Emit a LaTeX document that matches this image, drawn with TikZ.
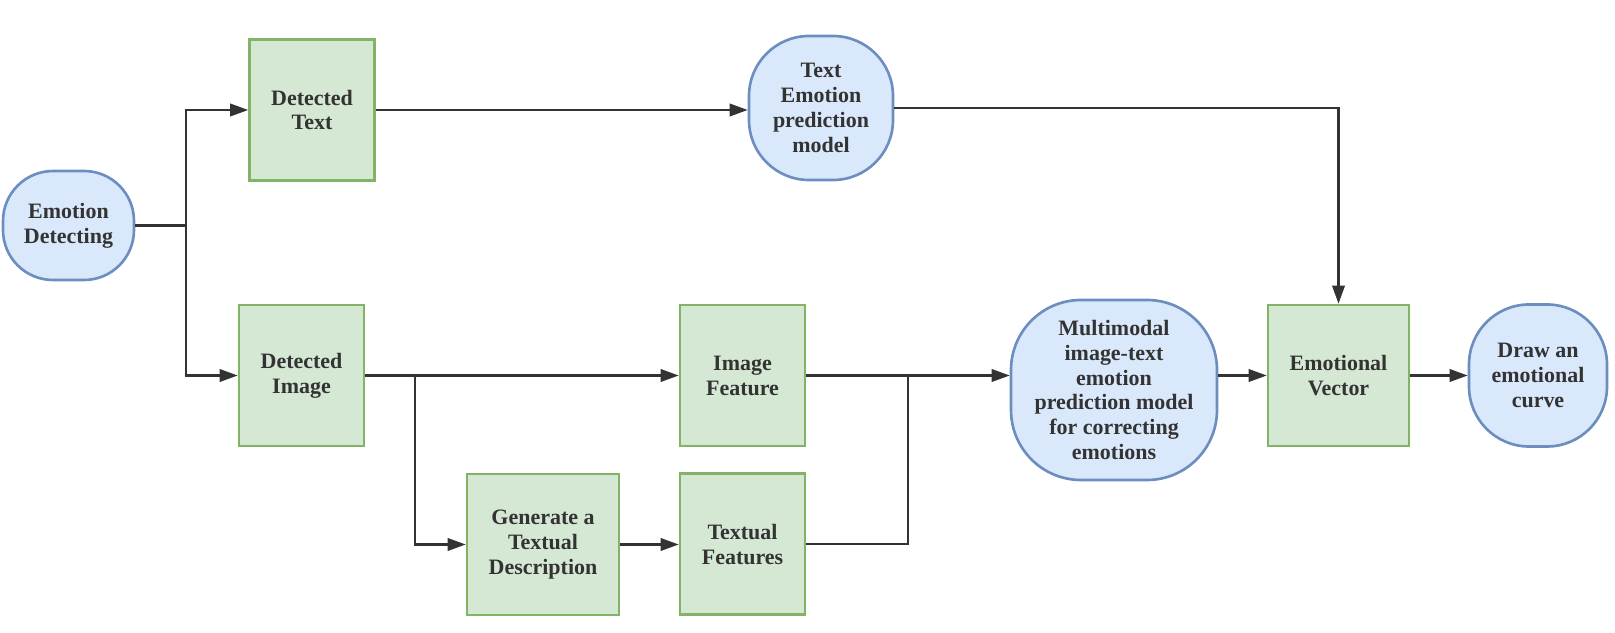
\documentclass[tikz,border=0pt]{standalone}
\usepackage{fontspec}
\setmainfont{Liberation Serif}
\usetikzlibrary{arrows.meta,positioning}
\definecolor{boxgreen}{HTML}{D5E8D4}
\definecolor{edgegreen}{HTML}{82B366}
\definecolor{boxblue}{HTML}{DAE8FC}
\definecolor{edgeblue}{HTML}{6C8EBF}
\definecolor{ink}{HTML}{333333}
\tikzset{
    flow diagram/.style = {>={Triangle[length=3.6mm, width=2.5mm]}},
    line/.style         = {draw=ink, line width=1.2pt},
    stage/.style        = {draw=edgegreen, fill=boxgreen, line width=1.5pt,
                           align=center, text=ink, font=\bfseries\fontsize{12.5}{14.2}\selectfont,
                           minimum width=2.5cm, minimum height=2.82cm, inner sep=2pt},
    model/.style        = {stage, draw=edgeblue, fill=boxblue,
                           rounded corners=0.9cm}
}
\begin{document}
\begin{tikzpicture}[flow diagram]
\useasboundingbox (0,0) rectangle (32.3,12.64);

\node[model, minimum width=2.62cm, minimum height=2.18cm, rounded corners=1cm]
    (emo) at (1.37,8.13) {Emotion\\Detecting};
\node[stage] (dtext) at (6.24,10.44) {Detected\\Text};
\node[model, minimum width=2.88cm, minimum height=2.88cm,
      rounded corners=1.2cm] (tmodel) at (16.42,10.48)
    {Text\\Emotion\\prediction\\model};
\node[stage] (dimage) at (6.03,5.13) {Detected\\Image};
\node[stage] (ifeat) at (14.85,5.13) {Image\\Feature};
\node[stage, minimum width=3.04cm] (gen) at (10.86,1.75)
    {Generate a\\Textual\\Description};
\node[stage, below=0.5cm of ifeat] (tfeat) {Textual\\Features};
\node[model, minimum width=4.12cm, minimum height=3.6cm,
      rounded corners=1.4cm] (multi) at (22.28,4.84)
    {Multimodal\\image-text\\emotion\\prediction model\\for correcting\\emotions};
\node[stage, minimum width=2.82cm] (evec) at (26.77,5.13) {Emotional\\Vector};
\node[model, minimum width=2.76cm, minimum height=2.84cm,
      rounded corners=1.2cm] (curve) at (30.76,5.13)
    {Draw an\\emotional\\curve};

% split after detection
\path (emo.east) ++(1.02,0) coordinate (split);
\draw[line] (emo.east) -- (split);
\draw[->, line] (split) |- (dtext.west);
\draw[->, line] (split) |- (dimage.west);

\draw[->, line] (dtext.east) -- (dtext.east -| tmodel.west);
\draw[->, line] (tmodel.east) -| (evec.north);

% image branch
\draw[->, line] (dimage.east) -- (ifeat.west);
\coordinate (fork) at (8.3,5.13);
\draw[->, line] (fork) |- (gen.west);
\draw[->, line] (gen.east) -- (gen.east -| tfeat.west);

% merge of both features
\coordinate (merge) at (18.16,5.13);
\draw[->, line] (ifeat.east) -- (ifeat.east -| multi.west);
\draw[line] (tfeat.east) -| (merge);
\draw[->, line] (multi.east |- evec.west) -- (evec.west);
\draw[->, line] (evec.east) -- (curve.west);

\end{tikzpicture}
\end{document}
